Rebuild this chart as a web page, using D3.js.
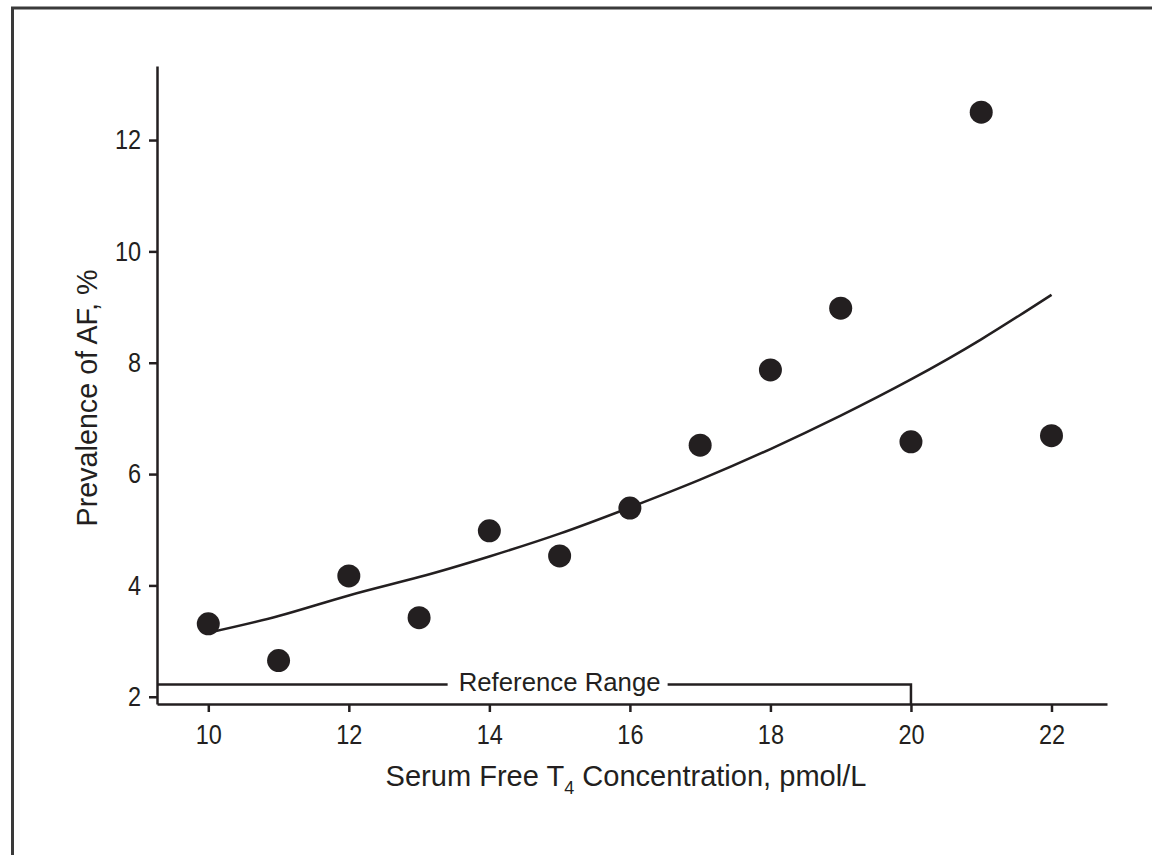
<!DOCTYPE html>
<html>
<head>
<meta charset="utf-8">
<script src="https://cdn.jsdelivr.net/npm/d3@7"></script>
<style>
  body { margin: 0; background: #fff; }
  text { font-family: 'Liberation Sans', Arial, sans-serif; fill: #231f20; }
</style>
</head>
<body>
<script>
// T4 concentration (pmol/L) and prevalence of AF (%)
const t4 = [10, 11, 12, 13, 14, 15, 16, 17, 18, 19, 20, 21, 22]
const prevalence = [3.31, 2.65, 4.17, 3.42, 4.98, 4.53, 5.39, 6.52, 7.87, 8.98, 6.58, 12.5, 6.69]

// fitted curve
const fitX = [10, 11, 12, 13, 14, 15, 16, 17, 18, 19, 20, 21, 22]
const fitY = [3.15, 3.45, 3.82, 4.15, 4.52, 4.93, 5.4, 5.9, 6.45, 7.05, 7.7, 8.42, 9.22]

const xTicks = [10, 12, 14, 16, 18, 20, 22]
const yTicks = [2, 4, 6, 8, 10, 12]
const refRange = [9.27, 20]

const width = 1152
const height = 855
const ink = '#231f20'
const sx = 0.87 // the original uses a narrow face, squeeze a regular one

const svg = d3.select('body').append('svg')
  .attr('width', width)
  .attr('height', height)
  .attr('viewBox', [0, 0, width, height])

// outer frame
svg.append('rect')
  .attr('x', 12.5)
  .attr('y', 8)
  .attr('width', width + 10)
  .attr('height', height + 10)
  .attr('fill', 'none')
  .attr('stroke', '#3a3a3a')
  .attr('stroke-width', 3)

const x = d3.scaleLinear().domain([9.27, 22.79]).range([157, 1107])
const y = d3.scaleLinear().domain([1.87, 13.33]).range([704, 66])

const xAxis = svg.append('g')
  .attr('transform', `translate(0,${y.range()[0]})`)
  .call(d3.axisBottom(x).tickValues(xTicks).tickSize(8).tickPadding(11).tickSizeOuter(0))

const yAxis = svg.append('g')
  .attr('transform', `translate(${x.range()[0]},0)`)
  .call(d3.axisLeft(y).tickValues(yTicks).tickSize(8).tickPadding(8).tickSizeOuter(0))

;[xAxis, yAxis].forEach(g => {
  g.select('.domain').attr('stroke', ink).attr('stroke-width', 2.5)
  g.selectAll('.tick line').attr('stroke', ink).attr('stroke-width', 2.5)
  g.selectAll('.tick text')
    .attr('fill', ink)
    .attr('transform', `scale(${sx},1)`)
    .style('font-size', '27px')
    .style('font-family', "'Liberation Sans', Arial, sans-serif")
})
xAxis.selectAll('.tick text').attr('dy', '0.76em')
yAxis.selectAll('.tick text').attr('x', -16 / sx)

// stretch a text to a given width around its anchor
const fit = (sel, w) => {
  const bw = sel.node().getBBox().width
  return w / bw
}

// reference range bracket
const refY = y(2.22)
const refLabel = svg.append('text')
  .attr('text-anchor', 'middle')
  .style('font-size', '25px')
  .text('Reference Range')
const refSx = fit(refLabel, 202)
refLabel.attr('transform', `translate(${x((10 + refRange[1]) / 2)},${refY + 6}) scale(${refSx},1)`)
const labelHalf = 101

svg.append('path')
  .attr('fill', 'none')
  .attr('stroke', ink)
  .attr('stroke-width', 2.5)
  .attr('d', `M${x(refRange[0])},${refY}H${x(15) - labelHalf - 11}`)

svg.append('path')
  .attr('fill', 'none')
  .attr('stroke', ink)
  .attr('stroke-width', 2.5)
  .attr('d', `M${x(15) + labelHalf + 7},${refY}H${x(refRange[1])}V${y.range()[0]}`)

// fitted curve
const line = d3.line()
  .curve(d3.curveNatural)
  .x(i => x(fitX[i]))
  .y(i => y(fitY[i]))

svg.append('path')
  .attr('fill', 'none')
  .attr('stroke', ink)
  .attr('stroke-width', 2.5)
  .attr('d', line(d3.range(fitX.length)))

// points
svg.append('g')
  .selectAll('circle')
  .data(t4)
  .join('circle')
    .attr('cx', d => x(d))
    .attr('cy', (d, i) => y(prevalence[i]))
    .attr('r', 11.5)
    .attr('fill', ink)

// axis titles
const xt = svg.append('text')
  .attr('text-anchor', 'middle')
  .style('font-size', '29px')
xt.append('tspan').text('Serum Free T')
xt.append('tspan').attr('dy', 8).style('font-size', '18px').text('4')
xt.append('tspan').attr('dy', -8).text(' Concentration, pmol/L')
xt.attr('transform', `translate(626,786) scale(${fit(xt, 481)},1)`)

const yt = svg.append('text')
  .attr('text-anchor', 'middle')
  .style('font-size', '29px')
  .text('Prevalence of AF, %')
yt.attr('transform', `translate(97,398) rotate(-90) scale(${fit(yt, 257)},1)`)
</script>
</body>
</html>
